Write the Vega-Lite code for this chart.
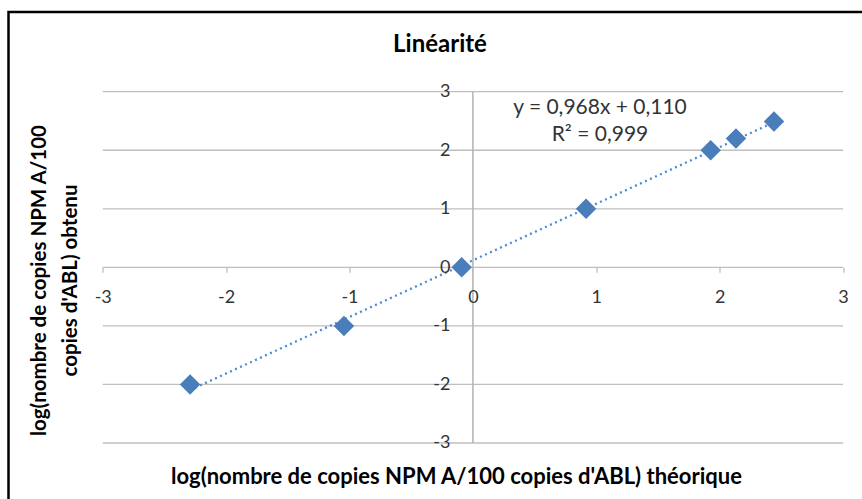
{
  "$schema": "https://vega.github.io/schema/vega-lite/v6.json",
  "width": 856,
  "height": 490,
  "autosize": {"type": "none"},
  "padding": {"left": 8.5, "top": 12, "right": -2.5, "bottom": -3},
  "background": "white",
  "config": {"view": {"stroke": "#000", "strokeWidth": 2.5}, "font": "Lato"},
  "title": {"text": "Linéarité", "fontSize": 24, "fontWeight": "bold", "font": "Lato", "color": "#000", "anchor": "middle", "frame": "group", "baseline": "middle", "offset": 0, "dx": 3.5, "dy": 57},
  "datasets": {
    "pts": [
      {"x": -2.292, "y": -2.0},
      {"x": -1.045, "y": -1.0},
      {"x": -0.091, "y": 0.0},
      {"x": 0.917, "y": 1.0},
      {"x": 1.927, "y": 2.0},
      {"x": 2.132, "y": 2.2},
      {"x": 2.44, "y": 2.49}
    ],
    "grid": [{"g": -3}, {"g": -2}, {"g": -1}, {"g": 0}, {"g": 1}, {"g": 2}, {"g": 3}],
    "eq": [
      {"label": "y = 0,968x + 0,110", "x": 1.03, "y": 2.72},
      {"label": "R² = 0,999", "x": 1.03, "y": 2.26}
    ]
  },
  "resolve": {"axis": {"x": "independent", "y": "independent"}},
  "layer": [
    {
      "data": {"name": "grid"},
      "mark": {"type": "rule", "color": "#bfbfbf", "strokeWidth": 1.3},
      "encoding": {
        "y": {"field": "g", "type": "quantitative", "scale": {"domain": [-4.008, 4.361], "nice": false, "zero": false}, "axis": null},
        "x": {"datum": -3, "type": "quantitative", "scale": {"domain": [-3.7634, 3.1736], "nice": false, "zero": false}, "axis": null},
        "x2": {"datum": 3}
      }
    },
    {
      "data": {"values": [{"v": 0}]},
      "mark": {"type": "rule", "color": "#b3b3b3", "strokeWidth": 1.5},
      "encoding": {
        "x": {"field": "v", "type": "quantitative", "scale": {"domain": [-3.7634, 3.1736], "nice": false, "zero": false}, "axis": null},
        "y": {"datum": -3, "type": "quantitative", "scale": {"domain": [-4.008, 4.361], "nice": false, "zero": false}, "axis": null},
        "y2": {"datum": 3}
      }
    },
    {
      "data": {"name": "pts"},
      "transform": [{"regression": "y", "on": "x"}],
      "mark": {"type": "line", "color": "#4F8BD0", "strokeWidth": 2.3, "strokeDash": [2, 3.5], "strokeCap": "butt"},
      "encoding": {
        "x": {"field": "x", "type": "quantitative", "scale": {"domain": [-3.7634, 3.1736], "nice": false, "zero": false}, "axis": null},
        "y": {"field": "y", "type": "quantitative", "scale": {"domain": [-4.008, 4.361], "nice": false, "zero": false}, "axis": null}
      }
    },
    {
      "data": {"name": "pts"},
      "mark": {"type": "point", "shape": "diamond", "filled": true, "size": 420, "color": "#4A7EBB", "opacity": 1},
      "encoding": {
        "x": {
          "field": "x", "type": "quantitative",
          "scale": {"domain": [-3.7634, 3.1736], "nice": false, "zero": false},
          "axis": {
            "orient": "bottom", "offset": -234.7, "values": [-3, -2, -1, 0, 1, 2, 3], "zindex": 1,
            "domain": false, "grid": false, "ticks": true, "tickSize": 5, "tickColor": "#bfbfbf", "tickWidth": 1.3,
            "labelFontSize": 18, "labelColor": "#333", "labelFont": "Lato", "labelPadding": 25, "labelBaseline": "middle",
            "labelFlush": false, "labelOverlap": false,
            "labelExpr": "datum.value < 0 ? '-' + abs(datum.value) : '' + datum.value",
            "title": "log(nombre de copies NPM A/100 copies d'ABL) théorique",
            "titleFontSize": 22, "titleFont": "Lato", "titleFontWeight": "bold", "titleColor": "#000",
            "titleX": 447.5, "titleY": 209, "titleBaseline": "middle", "titleAlign": "center"
          }
        },
        "y": {
          "field": "y", "type": "quantitative",
          "scale": {"domain": [-4.008, 4.361], "nice": false, "zero": false},
          "axis": {
            "orient": "left", "offset": -464.4, "values": [-3, -2, -1, 0, 1, 2, 3], "zindex": 1,
            "domain": false, "grid": false, "ticks": false,
            "labelFontSize": 18, "labelColor": "#333", "labelFont": "Lato", "labelPadding": 23, "labelBaseline": "middle",
            "labelFlush": false, "labelOverlap": false,
            "labelExpr": "datum.value < 0 ? '-' + abs(datum.value) : '' + datum.value",
            "title": ["log(nombre de copies NPM A/100", "copies d'ABL) obtenu"],
            "titleFontSize": 20.5, "titleFont": "Lato", "titleFontWeight": "bold", "titleColor": "#000",
            "titleX": -433, "titleY": 268, "titleAngle": -90, "titleBaseline": "middle", "titleAlign": "center", "titleLineHeight": 31
          }
        }
      }
    },
    {
      "data": {"name": "eq"},
      "mark": {"type": "text", "fontSize": 21, "font": "Lato", "color": "#333", "align": "center", "baseline": "middle"},
      "encoding": {
        "x": {"field": "x", "type": "quantitative", "scale": {"domain": [-3.7634, 3.1736], "nice": false, "zero": false}, "axis": null},
        "y": {"field": "y", "type": "quantitative", "scale": {"domain": [-4.008, 4.361], "nice": false, "zero": false}, "axis": null},
        "text": {"field": "label"}
      }
    }
  ]
}
